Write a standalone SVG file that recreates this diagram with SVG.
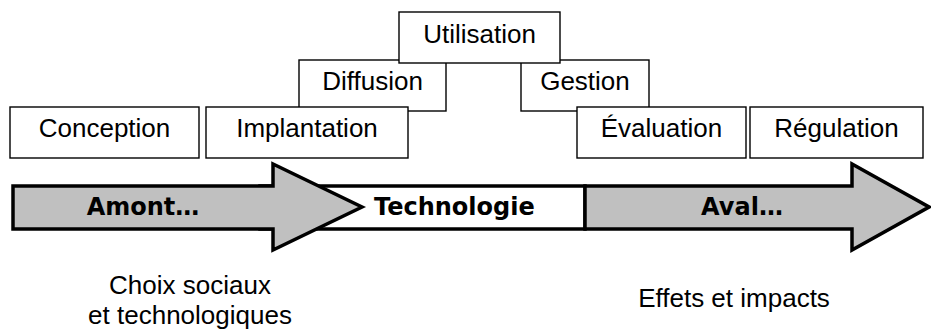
<svg xmlns="http://www.w3.org/2000/svg" width="931" height="330" viewBox="0 0 931 330">
<style>
.box{fill:#fff;stroke:#000;stroke-width:1.4}
.lbl{font-family:"Liberation Sans",Arial,sans-serif;font-size:26px;fill:#000;text-anchor:middle}
.bold{font-family:"DejaVu Sans",Verdana,sans-serif;font-size:24px;font-weight:bold}
.arrow{fill:#c0c0c0;stroke:#000;stroke-width:3.5;stroke-linejoin:miter}
.band{fill:#fff;stroke:#000;stroke-width:3.5}
</style>
<rect width="931" height="330" fill="#fff"/>
<g id="connectors">
  <rect class="band" x="260" y="186" width="325" height="43"/>
  <polygon id="amont-arrow" class="arrow" points="13,186 273,186 273,164 362,207 273,250 273,229 13,229"/>
  <polygon id="aval-arrow" class="arrow" points="585,186 852,186 852,164 929,207 852,250 852,229 585,229"/>
  <text class="lbl bold" x="143" y="215">Amont…</text>
  <text class="lbl bold" x="374" y="215" style="text-anchor:start">Technologie</text>
  <text class="lbl bold" x="742" y="215">Aval…</text>
</g>
<g id="diffusion"><rect class="box" x="299" y="60" width="147" height="51"/><text class="lbl" x="372.5" y="90">Diffusion</text></g>
<g id="gestion"><rect class="box" x="521" y="60" width="128" height="51"/><text class="lbl" x="585" y="90">Gestion</text></g>
<g id="utilisation"><rect class="box" x="399" y="12" width="161" height="51"/><text class="lbl" x="479.5" y="43">Utilisation</text></g>
<g id="implantation"><rect class="box" x="206" y="107" width="202" height="51"/><text class="lbl" x="307" y="137">Implantation</text></g>
<g id="evaluation"><rect class="box" x="577" y="107" width="169" height="51"/><text class="lbl" x="661.5" y="137">Évaluation</text></g>
<g id="conception"><rect class="box" x="10" y="107" width="189" height="51"/><text class="lbl" x="104.5" y="137">Conception</text></g>
<g id="regulation"><rect class="box" x="750" y="107" width="173" height="51"/><text class="lbl" x="836.5" y="137">Régulation</text></g>
<g id="captions">
  <text class="lbl" x="190" y="294">Choix sociaux</text>
  <text class="lbl" x="190" y="324">et technologiques</text>
  <text class="lbl" x="734" y="307">Effets et impacts</text>
</g>
</svg>
